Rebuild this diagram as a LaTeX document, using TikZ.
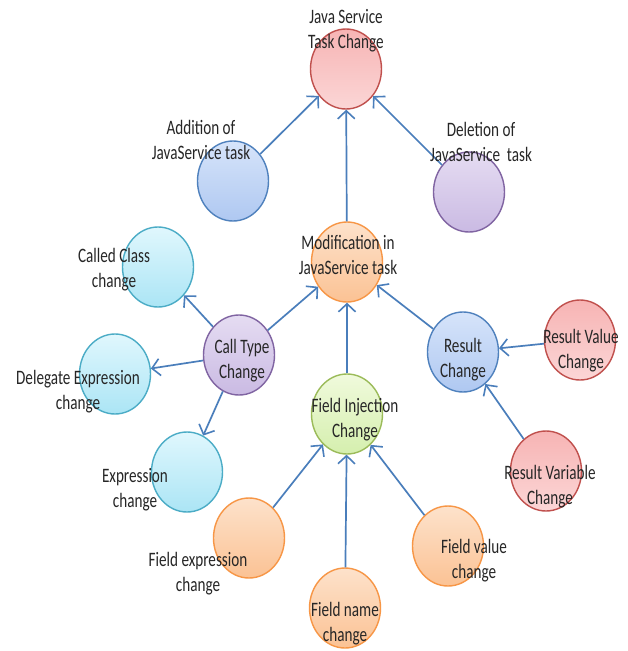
\documentclass[tikz,border=0pt]{standalone}
\usepackage{fontspec}
\setmainfont{Carlito}[FakeStretch=0.74]
\usetikzlibrary{shapes.geometric,arrows.meta}
\definecolor{arrowc}{HTML}{4A7EBB}
\definecolor{redD}{HTML}{C0504D}\definecolor{redT}{HTML}{F7B4B4}\definecolor{redB}{HTML}{FBD6D6}
\definecolor{bluD}{HTML}{4F81BD}\definecolor{bluT}{HTML}{D6E4FA}\definecolor{bluB}{HTML}{AFC8F1}
\definecolor{purD}{HTML}{8064A2}\definecolor{purT}{HTML}{E5DCF2}\definecolor{purB}{HTML}{CABAE3}
\definecolor{oraD}{HTML}{F79646}\definecolor{oraT}{HTML}{FDE2CB}\definecolor{oraB}{HTML}{FBC294}
\definecolor{greD}{HTML}{9BBB59}\definecolor{greT}{HTML}{F0FADC}\definecolor{greB}{HTML}{D5EFAE}
\definecolor{cyaD}{HTML}{4BACC6}\definecolor{cyaT}{HTML}{E0F7FD}\definecolor{cyaB}{HTML}{ABE5F5}
\tikzset{
  bub/.style={ellipse,minimum width=71pt,minimum height=80pt,inner sep=0pt,line width=1.4pt},
  redbub/.style={bub,draw=redD,top color=redT,bottom color=redB},
  blubub/.style={bub,draw=bluD,top color=bluT,bottom color=bluB},
  purbub/.style={bub,draw=purD,top color=purT,bottom color=purB},
  orabub/.style={bub,draw=oraD,top color=oraT,bottom color=oraB},
  grebub/.style={bub,draw=greD,top color=greT,bottom color=greB},
  cyabub/.style={bub,draw=cyaD,top color=cyaT,bottom color=cyaB},
  lbl/.style={align=center,inner sep=0pt,font=\fontsize{20.5pt}{25pt}\selectfont,text=black!85},
  arr/.style={draw=arrowc,line width=1.7pt,-{Straight Barb[length=8pt,width=17pt,line width=1.6pt]}}
}
\begin{document}
\begin{tikzpicture}[x=1pt,y=-1pt]
\path[use as bounding box,fill=white] (0,0) rectangle (628,651);
% bubbles
\node[redbub] (jstc) at (346,69) {};
\node[blubub] (add) at (233,181) {};
\node[purbub] (del) at (469,192) {};
\node[orabub] (mod) at (347,262) {};
\node[purbub] (ct) at (239,355) {};
\node[cyabub] (cc) at (158,267) {};
\node[cyabub] (de) at (115,374) {};
\node[cyabub] (ex) at (187,472) {};
\node[grebub] (fi) at (347,414) {};
\node[orabub] (fe) at (249,538) {};
\node[orabub] (fn) at (345,608) {};
\node[orabub] (fv) at (448,546) {};
\node[blubub] (rc) at (463,352) {};
\node[redbub] (rv) at (580,340) {};
\node[redbub] (rvar) at (546,471) {};
% connectors
\draw[arr] (add) -- (jstc);
\draw[arr] (mod) -- (jstc);
\draw[arr] (del) -- (jstc);
\draw[arr] (ct) -- (mod);
\draw[arr] (fi) -- (mod);
\draw[arr] (rc) -- (mod);
\draw[arr] (ct) -- (cc);
\draw[arr] (ct) -- (de);
\draw[arr] (ct) -- (ex);
\draw[arr] (fe) -- (fi);
\draw[arr] (fn) -- (fi);
\draw[arr] (fv) -- (fi);
\draw[arr] (rv) -- (rc);
\draw[arr] (rvar) -- (rc);
% labels
\node[lbl] (ljstc) at (346,31) {Java Service\\Task Change};
\node[lbl] (ladd) at (201,140) {Addition of\\JavaService task};
\node[lbl] (ldel) at (481,142) {Deletion of\\JavaService\ \ task};
\node[lbl] (lmod) at (348,255) {Modification in\\JavaService task};
\node[lbl] (lct) at (242,361) {Call Type\\Change};
\node[lbl] (lcc) at (114,270) {Called Class\\change};
\node[lbl] (lde) at (78,392) {Delegate Expression\\change};
\node[lbl] (lex) at (135,490) {Expression\\change};
\node[lbl] (lfi) at (355,420) {Field Injection\\Change};
\node[lbl] (lfe) at (198,574) {Field expression\\change};
\node[lbl] (lfn) at (345,624) {Field name\\change};
\node[lbl] (lfv) at (474,561) {Field value\\change};
\node[lbl] (lrc) at (463,360) {Result\\Change};
\node[lbl] (lrv) at (581,351) {Result Value\\Change};
\node[lbl] (lrvar) at (550,487) {Result Variable\\Change};
\end{tikzpicture}
\end{document}
